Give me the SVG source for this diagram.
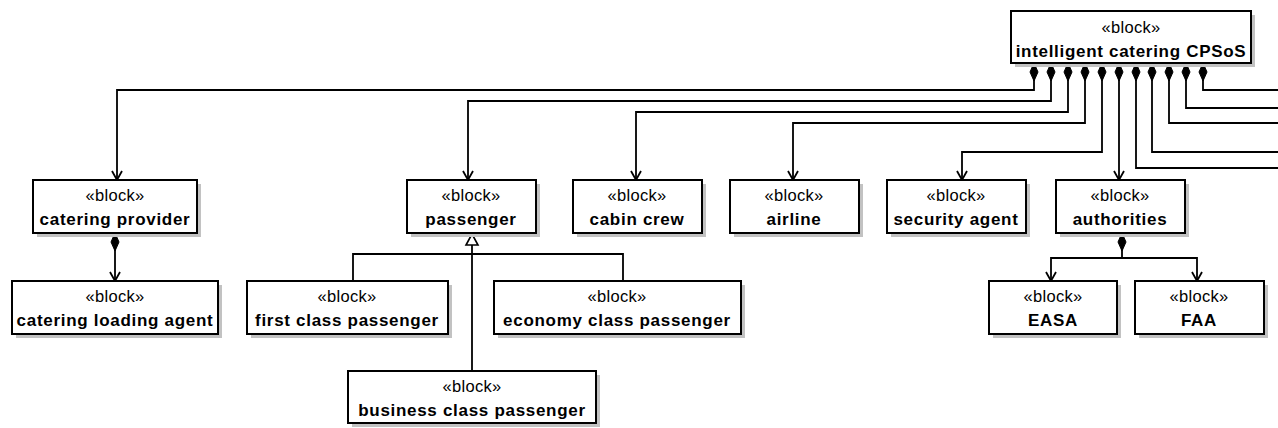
<svg xmlns="http://www.w3.org/2000/svg" width="1278" height="428" viewBox="0 0 1278 428">
  <style>
    .box { fill: #ffffff; stroke: #000000; stroke-width: 2; }
    .shadow { fill: #c2c2c2; }
    .st { font-family: "Liberation Sans", Arial, sans-serif; font-size: 16.5px; letter-spacing: 0.3px; text-anchor: middle; fill: #000; }
    .nm { font-family: "Liberation Sans", Arial, sans-serif; font-size: 17px; font-weight: bold; letter-spacing: 0.7px; text-anchor: middle; fill: #000; }
    .ln { fill: none; stroke: #000000; stroke-width: 1.8; }
    .nav { marker-end: url(#arrow); }
    .dmd { fill: #000; stroke: #000; stroke-width: 1; }
  </style>
  <defs>
    <!-- filled composition diamond, tip at origin, pointing up -->
    <path id="diamond" class="dmd" d="M0,0 L4,9 L0,18 L-4,9 Z"/>
    <marker id="arrow" markerUnits="userSpaceOnUse" markerWidth="12" markerHeight="12" refX="0" refY="0" orient="auto" overflow="visible">
      <path d="M-9,-5 L0,0 L-9,5" fill="none" stroke="#000" stroke-width="1.8"/>
    </marker>
    <marker id="gen" markerUnits="userSpaceOnUse" markerWidth="14" markerHeight="14" refX="0" refY="0" orient="auto" overflow="visible">
      <path d="M0,0 L-11,-6 L-11,6 Z" fill="#fff" stroke="#000" stroke-width="1.6"/>
    </marker>
  </defs>

  <g id="connectors">
    <!-- compositions of the top block, to the left -->
    <path class="ln nav" d="M1034,63 V90 H117 V180"/>
    <path class="ln nav" d="M1051,63 V101 H468 V180"/>
    <path class="ln nav" d="M1068,63 V112 H636 V180"/>
    <path class="ln nav" d="M1085,63 V123 H793 V180"/>
    <path class="ln nav" d="M1102,63 V152 H962 V180"/>
    <path class="ln nav" d="M1119,63 V180"/>
    <!-- compositions continuing off to the right -->
    <path class="ln" d="M1136,63 V168 H1278"/>
    <path class="ln" d="M1152,63 V152 H1278"/>
    <path class="ln" d="M1169,63 V123 H1278"/>
    <path class="ln" d="M1186,63 V108 H1278"/>
    <path class="ln" d="M1203,63 V90 H1278"/>
    <!-- catering provider -> catering loading agent -->
    <path class="ln nav" d="M115,233 V281"/>
    <!-- authorities -> EASA / FAA -->
    <path class="ln nav" d="M1122,233 V258 H1051 V281"/>
    <path class="ln nav" d="M1122,258 H1197 V281"/>
    <!-- generalizations to passenger -->
    <path class="ln" d="M353,281 V254 H472"/>
    <path class="ln" d="M623,281 V254 H472"/>
    <path class="ln" style="marker-end:url(#gen)" d="M472,371 V234"/>
    <!-- composition diamonds at the owning ends -->
    <use href="#diamond" x="1034" y="63"/>
    <use href="#diamond" x="1051" y="63"/>
    <use href="#diamond" x="1068" y="63"/>
    <use href="#diamond" x="1085" y="63"/>
    <use href="#diamond" x="1102" y="63"/>
    <use href="#diamond" x="1119" y="63"/>
    <use href="#diamond" x="1136" y="63"/>
    <use href="#diamond" x="1152" y="63"/>
    <use href="#diamond" x="1169" y="63"/>
    <use href="#diamond" x="1186" y="63"/>
    <use href="#diamond" x="1203" y="63"/>
    <use href="#diamond" x="115" y="233"/>
    <use href="#diamond" x="1122" y="233"/>
  </g>

  <g id="intelligent-catering-cpsos">
    <rect class="shadow" x="1015" y="15" width="240" height="52"/>
    <rect class="box" x="1011" y="11" width="240" height="52"/>
    <text class="st" x="1131" y="33">«block»</text>
    <text class="nm" x="1131" y="57">intelligent catering CPSoS</text>
  </g>

  <g id="catering-provider">
    <rect class="shadow" x="37" y="184" width="164" height="53"/>
    <rect class="box" x="33" y="180" width="164" height="53"/>
    <text class="st" x="115" y="201">«block»</text>
    <text class="nm" x="115" y="225">catering provider</text>
  </g>

  <g id="catering-loading-agent">
    <rect class="shadow" x="16" y="285" width="206" height="53"/>
    <rect class="box" x="12" y="281" width="206" height="53"/>
    <text class="st" x="115" y="302">«block»</text>
    <text class="nm" x="115" y="326">catering loading agent</text>
  </g>

  <g id="passenger">
    <rect class="shadow" x="411" y="184" width="129" height="53"/>
    <rect class="box" x="407" y="180" width="129" height="53"/>
    <text class="st" x="471" y="201">«block»</text>
    <text class="nm" x="471" y="225">passenger</text>
  </g>

  <g id="first-class-passenger">
    <rect class="shadow" x="251" y="285" width="201" height="53"/>
    <rect class="box" x="247" y="281" width="201" height="53"/>
    <text class="st" x="347" y="302">«block»</text>
    <text class="nm" x="347" y="326">first class passenger</text>
  </g>

  <g id="economy-class-passenger">
    <rect class="shadow" x="498" y="285" width="247" height="53"/>
    <rect class="box" x="494" y="281" width="247" height="53"/>
    <text class="st" x="617" y="302">«block»</text>
    <text class="nm" x="617" y="326">economy class passenger</text>
  </g>

  <g id="business-class-passenger">
    <rect class="shadow" x="352" y="375" width="248" height="52"/>
    <rect class="box" x="348" y="371" width="248" height="52"/>
    <text class="st" x="472" y="392">«block»</text>
    <text class="nm" x="472" y="416">business class passenger</text>
  </g>

  <g id="cabin-crew">
    <rect class="shadow" x="577" y="184" width="129" height="53"/>
    <rect class="box" x="573" y="180" width="129" height="53"/>
    <text class="st" x="637" y="201">«block»</text>
    <text class="nm" x="637" y="225">cabin crew</text>
  </g>

  <g id="airline">
    <rect class="shadow" x="734" y="184" width="129" height="53"/>
    <rect class="box" x="730" y="180" width="129" height="53"/>
    <text class="st" x="794" y="201">«block»</text>
    <text class="nm" x="794" y="225">airline</text>
  </g>

  <g id="security-agent">
    <rect class="shadow" x="891" y="184" width="139" height="53"/>
    <rect class="box" x="887" y="180" width="139" height="53"/>
    <text class="st" x="956" y="201">«block»</text>
    <text class="nm" x="956" y="225">security agent</text>
  </g>

  <g id="authorities">
    <rect class="shadow" x="1060" y="184" width="129" height="53"/>
    <rect class="box" x="1056" y="180" width="129" height="53"/>
    <text class="st" x="1120" y="201">«block»</text>
    <text class="nm" x="1120" y="225">authorities</text>
  </g>

  <g id="easa">
    <rect class="shadow" x="993" y="285" width="128" height="53"/>
    <rect class="box" x="989" y="281" width="128" height="53"/>
    <text class="st" x="1053" y="302">«block»</text>
    <text class="nm" x="1053" y="326">EASA</text>
  </g>

  <g id="faa">
    <rect class="shadow" x="1139" y="285" width="129" height="53"/>
    <rect class="box" x="1135" y="281" width="129" height="53"/>
    <text class="st" x="1199" y="302">«block»</text>
    <text class="nm" x="1199" y="326">FAA</text>
  </g>
</svg>
